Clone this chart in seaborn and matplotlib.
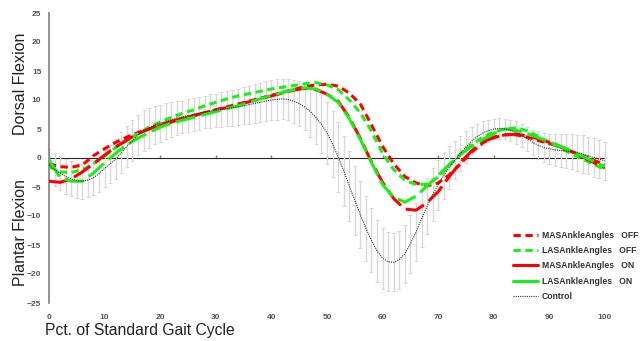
import numpy as np
import pandas as pd
import matplotlib
matplotlib.use("Agg")
import matplotlib.pyplot as plt
from matplotlib.lines import Line2D
import seaborn as sns

# percent of gait cycle: patient curves every 2%, control every 1%
pct = list(range(0, 101, 2))
pct_ctrl = list(range(0, 101))

control = [-1.3, -2.0, -2.6, -3.2, -3.6, -3.9, -4.0, -3.8, -3.4, -2.7,
           -1.8, -1.0, -0.2, 0.9, 2.0, 3.0, 4.0, 4.7, 5.2, 5.7,
           6.0, 6.3, 6.6, 6.9, 7.1, 7.3, 7.5, 7.7, 7.9, 8.1,
           8.2, 8.4, 8.5, 8.7, 8.8, 9.0, 9.2, 9.4, 9.6, 9.8,
           10.0, 10.1, 10.2, 10.1, 9.8, 9.4, 8.8, 8.0, 7.0, 5.8,
           4.3, 2.4, 0.2, -2.2, -4.8, -7.3, -9.8, -12.1, -14.2, -16.0,
           -17.3, -17.9, -18.0, -17.5, -16.5, -14.8, -12.8, -10.5, -8.3, -6.3,
           -4.6, -3.0, -1.6, -0.4, 0.8, 1.9, 2.9, 3.7, 4.3, 4.7,
           5.0, 5.1, 5.0, 4.8, 4.4, 3.9, 3.3, 2.7, 2.2, 1.8,
           1.6, 1.4, 1.3, 1.2, 1.1, 0.9, 0.7, 0.4, 0.1, -0.2, -0.5]

control_sd = [2.8, 2.9, 3.0, 3.0, 3.0, 3.0, 3.0, 3.0, 3.0, 3.1,
              3.2, 3.3, 3.4, 3.5, 3.5, 3.5, 3.5, 3.5, 3.4, 3.3,
              3.2, 3.1, 3.0, 2.9, 2.8, 2.8, 2.8, 2.8, 2.8, 2.9,
              2.9, 3.0, 3.0, 3.1, 3.1, 3.2, 3.3, 3.3, 3.4, 3.5,
              3.5, 3.5, 3.5, 3.6, 3.7, 3.8, 4.0, 4.3, 4.6, 5.0,
              5.4, 5.7, 6.0, 6.0, 6.0, 5.9, 5.8, 5.6, 5.5, 5.3,
              5.2, 5.1, 5.0, 5.0, 5.0, 5.0, 5.0, 4.9, 4.8, 4.6,
              4.3, 4.0, 3.7, 3.3, 3.0, 2.7, 2.4, 2.2, 2.0, 1.9,
              1.8, 1.8, 1.8, 1.8, 1.9, 2.0, 2.1, 2.2, 2.4, 2.5,
              2.6, 2.7, 2.8, 2.9, 3.0, 3.1, 3.2, 3.2, 3.3, 3.3, 3.3]

mas_off = [-1.0, -1.5, -1.6, -1.2, 0.4, 1.6, 2.7, 3.6, 4.4, 5.0,
           5.6, 6.2, 6.8, 7.3, 7.8, 8.3, 8.8, 9.3, 9.8, 10.3,
           10.8, 11.3, 11.8, 12.3, 12.6, 12.7, 12.4, 11.2, 9.3, 5.7,
           2.0, -1.0, -3.2, -4.3, -4.8, -4.3, -2.9, -1.0, 1.0, 2.6,
           3.6, 4.0, 4.0, 3.6, 3.0, 2.5, 1.9, 1.1, 0.4, -0.4, -1.2]

las_off = [-1.5, -2.4, -2.5, -2.0, -1.0, 0.3, 1.8, 3.0, 4.2, 5.3,
           6.2, 7.0, 7.7, 8.3, 9.0, 9.6, 10.2, 10.7, 11.1, 11.5,
           11.9, 12.2, 12.5, 12.8, 13.0, 12.6, 11.8, 10.0, 7.8, 4.6,
           0.8, -2.0, -3.8, -4.6, -4.5, -3.3, -1.3, 0.7, 2.3, 3.6,
           4.5, 5.0, 5.2, 4.7, 3.7, 2.7, 1.7, 0.7, -0.2, -1.1, -2.0]

mas_on = [-4.0, -4.2, -3.6, -2.4, -1.0, 0.5, 1.9, 3.1, 4.2, 5.0,
          5.7, 6.3, 6.8, 7.3, 7.8, 8.3, 8.7, 9.2, 9.7, 10.2,
          10.7, 11.2, 11.7, 12.0, 11.8, 11.0, 9.8, 7.0, 3.4, -0.7,
          -4.2, -7.0, -8.8, -9.0, -7.7, -5.8, -3.2, -0.8, 1.2, 2.8,
          3.5, 4.0, 4.1, 3.8, 3.3, 2.7, 2.0, 1.1, 0.2, -0.8, -1.7]

las_on = [-0.3, -3.4, -4.0, -4.0, -2.6, -0.8, 0.8, 2.3, 3.4, 4.4,
          5.3, 6.0, 6.5, 7.0, 7.5, 8.0, 8.5, 9.0, 9.6, 10.2,
          10.8, 11.3, 11.8, 12.1, 11.9, 11.0, 9.6, 6.8, 3.2, -0.8,
          -4.6, -6.8, -7.6, -6.6, -4.8, -3.0, -1.1, 0.6, 2.0, 3.2,
          4.2, 5.0, 4.8, 4.2, 3.5, 2.8, 2.0, 1.2, 0.3, -0.6, -1.5]

x_ticks = list(range(0, 101, 10))
y_ticks = list(range(-25, 26, 5))

sns.set_style("white")
plt.rcParams["font.family"] = ["Liberation Sans", "DejaVu Sans"]

RED = "#ff0000"
GREEN = "#19f019"
TICK_GRAY = "#555555"

fig = plt.figure(figsize=(6.44, 3.41), dpi=100)
ax = fig.add_axes([49 / 644, 1 - 303 / 341, 556 / 644, 290 / 341])

# control mean +/- sd whiskers
ax.errorbar(pct_ctrl, control, yerr=control_sd, fmt="none", ecolor="#d9d9d9",
            elinewidth=1.0, capsize=1.6, capthick=0.8, zorder=1, clip_on=False)

off_dash = (0, (2.4, 1.5))
on_dash = (0, (6.5, 2.0))

series = [
    ("MASAnkleAngles   OFF", mas_off, RED, off_dash),
    ("LASAnkleAngles   OFF", las_off, GREEN, off_dash),
    ("MASAnkleAngles   ON", mas_on, RED, on_dash),
    ("LASAnkleAngles   ON", las_on, GREEN, on_dash),
]

for name, vals, col, ls in series:
    df = pd.DataFrame({"pct": pct, "angle": vals})
    sns.lineplot(data=df, x="pct", y="angle", ax=ax, color=col, lw=2.2,
                 estimator=None, zorder=3)
    # seaborn may reset the dash pattern, so set it on the drawn line
    ax.lines[-1].set_linestyle(ls)
    ax.lines[-1].set_dash_capstyle("butt")

df_c = pd.DataFrame({"pct": pct_ctrl, "angle": control})
sns.lineplot(data=df_c, x="pct", y="angle", ax=ax, color="#333333", lw=0.8,
             estimator=None, zorder=4)
ax.lines[-1].set_linestyle((0, (1, 1)))

ax.set_xlim(0, 100)
ax.set_ylim(-25, 25)
ax.set_xlabel("")
ax.set_ylabel("")

# axes look
for s in ["top", "right", "bottom"]:
    ax.spines[s].set_visible(False)
ax.spines["left"].set_color("#808080")
ax.spines["left"].set_linewidth(1.2)

ax.set_yticks(y_ticks)
ax.set_xticks(x_ticks)
ax.tick_params(axis="y", direction="out", length=2.5, width=1, color="#808080",
               labelsize=6, labelcolor=TICK_GRAY, pad=3)
ax.tick_params(axis="x", length=0, labelsize=6, labelcolor=TICK_GRAY, pad=8)
for lab in ax.get_xticklabels() + ax.get_yticklabels():
    lab.set_fontweight("bold")

# zero line acting as x axis
sec = ax.secondary_xaxis(0.5)
sec.set_xticks(x_ticks)
sec.set_xticklabels([])
sec.spines["bottom"].set_color("#808080")
sec.spines["bottom"].set_linewidth(1.2)
sec.tick_params(direction="out", length=2.5, width=1, color="#808080")

fig.text(21 / 644, 1 - 84 / 341, "Dorsal Flexion", rotation=90, ha="center",
         va="center", fontsize=11.5, color="#222222")
fig.text(21 / 644, 1 - 233 / 341, "Plantar Flexion", rotation=90, ha="center",
         va="center", fontsize=11.5, color="#222222")
fig.text(45 / 644, 1 - 331 / 341, "Pct. of Standard Gait Cycle", ha="left",
         va="center", fontsize=11.3, color="#222222")

handles = [
    Line2D([], [], color=RED, lw=2.2, linestyle=off_dash),
    Line2D([], [], color=GREEN, lw=2.2, linestyle=off_dash),
    Line2D([], [], color=RED, lw=2.2),
    Line2D([], [], color=GREEN, lw=2.2),
    Line2D([], [], color="#333333", lw=0.8, linestyle=(0, (1, 1))),
]
labels = [s[0] for s in series] + ["Control"]
leg = ax.legend(handles, labels, loc="upper left",
                bbox_to_anchor=((513 - 49) / 556, (303 - 231) / 290),
                frameon=False, borderaxespad=0, borderpad=0,
                handlelength=2.9, handletextpad=0.45, labelspacing=0.72,
                prop={"size": 6.2, "weight": "bold"})
for t in leg.get_texts():
    t.set_color("#333333")

fig.savefig("out.png", dpi=100)
